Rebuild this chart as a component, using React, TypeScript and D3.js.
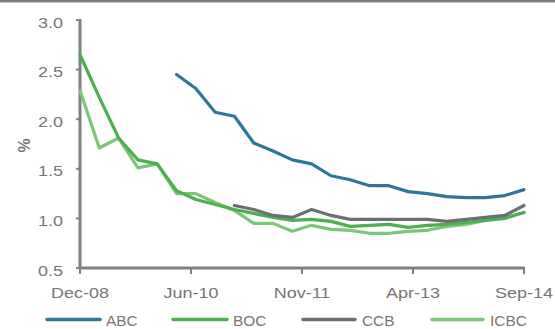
import React from "react";
import * as d3 from "d3";

// Quarterly NPL ratios, Dec-08 .. Sep-14 (24 quarters)
const quarterCount = 24;
const abc: (number | null)[] = [
  null, null, null, null, null,
  2.45, 2.31, 2.07, 2.03, 1.76, 1.68, 1.59, 1.55, 1.43, 1.39, 1.33, 1.33, 1.27, 1.25, 1.22, 1.21, 1.21, 1.23, 1.29,
];
const boc: (number | null)[] = [
  2.65, 2.22, 1.81, 1.59, 1.55, 1.28, 1.19, 1.14, 1.09, 1.05, 1.01, 0.98, 0.99, 0.97, 0.92, 0.93, 0.94, 0.91, 0.93, 0.94, 0.96, 0.98, 1.0, 1.06,
];
const ccb: (number | null)[] = [
  null, null, null, null, null, null, null, null,
  1.13, 1.09, 1.03, 1.01, 1.09, 1.03, 0.99, 0.99, 0.99, 0.99, 0.99, 0.97, 0.99, 1.01, 1.03, 1.13,
];
const icbc: (number | null)[] = [
  2.29, 1.71, 1.81, 1.51, 1.55, 1.25, 1.25, 1.16, 1.08, 0.95, 0.95, 0.87, 0.93, 0.89, 0.88, 0.85, 0.85, 0.87, 0.88, 0.92, 0.94, 0.98, 1.01, 1.06,
];

const seriesNames = ["ABC", "BOC", "CCB", "ICBC"];
const seriesColors = ["#2f7799", "#4caf50", "#6d6e71", "#7cc677"];
const seriesData = [abc, boc, ccb, icbc];
// draw order: light green first so the darker lines sit above it
const drawOrder = [3, 1, 2, 0];

const xTickLabels = ["Dec-08", "Jun-10", "Nov-11", "Apr-13", "Sep-14"];
const yTicks = [0.5, 1.0, 1.5, 2.0, 2.5, 3.0];

const W = 555;
const H = 329;
const left = 80;
const right = 524;
const top = 20;
const bottom = 268;
const axisColor = "#808080";
const textColor = "#767676";
const font = "'Liberation Sans', Arial, sans-serif";

export default function App() {
  const x = d3.scaleLinear().domain([0, quarterCount - 1]).range([left, right]);
  const y = d3.scaleLinear().domain([0.5, 3.0]).range([bottom, top]);
  const line = d3
    .line<number | null>()
    .defined((d) => d !== null)
    .x((_, i) => x(i))
    .y((d) => y(d as number));

  const xTickPos = xTickLabels.map((_, i) => ((quarterCount - 1) * i) / (xTickLabels.length - 1));

  const legendItems = [
    { x0: 47, x1: 100, tx: 106 },
    { x0: 173, x1: 227, tx: 233 },
    { x0: 303, x1: 355, tx: 362 },
    { x0: 432, x1: 483, tx: 490 },
  ];

  return (
    <svg
      width={W}
      height={H}
      style={{ position: "absolute", left: 0, top: 0, background: "#fff" }}
      fontFamily={font}
    >
      <line x1={0} x2={W} y1={1.2} y2={1.2} stroke={axisColor} strokeWidth={2.5} />

      {/* y axis */}
      <line x1={left} x2={left} y1={top - 1} y2={bottom + 1} stroke={axisColor} strokeWidth={3} />
      {yTicks.map((t) => (
        <g key={t}>
          <line x1={left - 4} x2={left} y1={y(t)} y2={y(t)} stroke={axisColor} strokeWidth={2} />
          <text
            transform={`translate(${left - 17},${y(t) + 7.5}) scale(1.2,1)`}
            textAnchor="end"
            fontSize={15}
            fill={textColor}
          >
            {t.toFixed(1)}
          </text>
        </g>
      ))}
      <text
        transform={`translate(30,145.5) rotate(-90)`}
        textAnchor="middle"
        fontSize={16}
        fontWeight="bold"
        fill={textColor}
      >
        %
      </text>

      {/* x axis */}
      <line x1={left - 1} x2={right + 1} y1={bottom} y2={bottom} stroke={axisColor} strokeWidth={3} />
      {xTickPos.map((p, i) => (
        <g key={i}>
          <line x1={x(p)} x2={x(p)} y1={bottom} y2={bottom + 6} stroke={axisColor} strokeWidth={2} />
          <text
            transform={`translate(${x(p)},298) scale(1.2,1)`}
            textAnchor="middle"
            fontSize={15}
            fill={textColor}
          >
            {xTickLabels[i]}
          </text>
        </g>
      ))}

      {/* series */}
      {drawOrder.map((k) => (
        <path
          key={seriesNames[k]}
          d={line(seriesData[k]) || ""}
          fill="none"
          stroke={seriesColors[k]}
          strokeWidth={3.2}
          strokeLinejoin="round"
          strokeLinecap="round"
        />
      ))}

      {/* legend */}
      {legendItems.map((it, k) => (
        <g key={seriesNames[k]}>
          <line
            x1={it.x0}
            x2={it.x1}
            y1={319.5}
            y2={319.5}
            stroke={seriesColors[k]}
            strokeWidth={3.5}
            strokeLinecap="round"
          />
          <text
            transform={`translate(${it.tx},326) scale(1.1,1)`}
            fontSize={14}
            fill={textColor}
          >
            {seriesNames[k]}
          </text>
        </g>
      ))}
    </svg>
  );
}
